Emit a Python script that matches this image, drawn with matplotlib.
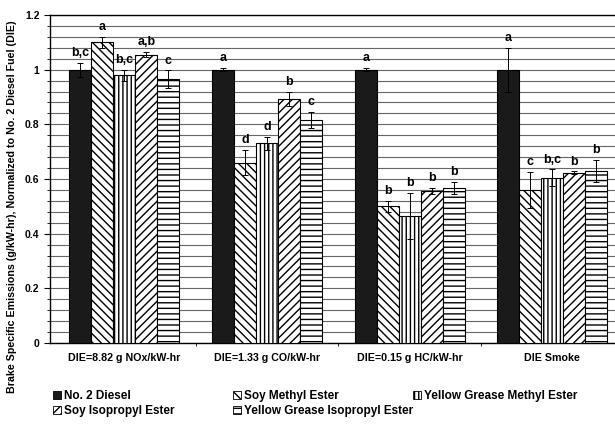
import matplotlib
matplotlib.use("Agg")
import matplotlib.pyplot as plt
import numpy as np
from matplotlib.patches import Patch

plt.rcParams['font.family'] = ['Liberation Sans', 'DejaVu Sans']
plt.rcParams['hatch.linewidth'] = 1.0

categories = ["DIE=8.82 g NOx/kW-hr", "DIE=1.33 g CO/kW-hr", "DIE=0.15 g HC/kW-hr", "DIE Smoke"]
series = ["No. 2 Diesel", "Soy Methyl Ester", "Yellow Grease Methyl Ester",
          "Soy Isopropyl Ester", "Yellow Grease Isopropyl Ester"]

diesel = [1.00, 1.00, 1.00, 1.00]
soy_me = [1.10, 0.66, 0.50, 0.56]
yg_me = [0.98, 0.73, 0.465, 0.605]
soy_ie = [1.055, 0.893, 0.557, 0.623]
yg_ie = [0.965, 0.815, 0.568, 0.63]

diesel_err = [0.025, 0.006, 0.005, 0.08]
soy_me_err = [0.02, 0.045, 0.02, 0.065]
yg_me_err = [0.02, 0.025, 0.085, 0.03]
soy_ie_err = [0.01, 0.027, 0.011, 0.005]
yg_ie_err = [0.032, 0.03, 0.022, 0.04]

diesel_lbl = ["b,c", "a", "a", "a"]
soy_me_lbl = ["a", "d", "b", "c"]
yg_me_lbl = ["b,c", "d", "b", "b,c"]
soy_ie_lbl = ["a,b", "b", "b", "b"]
yg_ie_lbl = ["c", "c", "b", "b"]

vals = [diesel, soy_me, yg_me, soy_ie, yg_ie]
errs = [diesel_err, soy_me_err, yg_me_err, soy_ie_err, yg_ie_err]
lbls = [diesel_lbl, soy_me_lbl, yg_me_lbl, soy_ie_lbl, yg_ie_lbl]
styles = [dict(facecolor='#1a1a1a', hatch=None),
          dict(facecolor='white', hatch='\\\\\\\\'),
          dict(facecolor='white', hatch='||||'),
          dict(facecolor='white', hatch='////'),
          dict(facecolor='white', hatch='---')]

fig = plt.figure(figsize=(6.15, 4.32), dpi=100)
W, H = 615, 432
ax = fig.add_axes([50 / W, (H - 343) / H, 575 / W, 328 / H])

x = np.arange(len(categories))
bw = 0.154
for i in range(5):
    pos = x + (i - 2) * bw
    ax.bar(pos, vals[i], bw, edgecolor='black', linewidth=0.8, zorder=3, **styles[i])
    ax.errorbar(pos, vals[i], yerr=errs[i], fmt='none', ecolor='black',
                elinewidth=0.7, capsize=2.5, capthick=0.7, zorder=4)
    for p, v, e, t in zip(pos, vals[i], errs[i], lbls[i]):
        ax.text(p, v + e + 0.014, t, ha='center', va='bottom', fontsize=9,
                fontweight='bold', zorder=5)

ax.set_ylim(0, 1.2)
ax.set_xlim(-0.521, 3.51)
ax.set_yticks(np.arange(0, 1.21, 0.2))
ax.set_yticklabels(["0", "0.2", "0.4", "0.6", "0.8", "1", "1.2"], fontsize=7.5, fontweight='bold')
ax.set_yticks(np.arange(0, 1.201, 0.04), minor=True)
ax.yaxis.grid(True, which='both', color='#666666', linewidth=0.8, zorder=0)
ax.set_axisbelow(True)
ax.tick_params(axis='y', which='major', length=4, width=0.8, direction='out')
ax.tick_params(axis='y', which='minor', length=2, width=0.6, direction='out')

ax.set_xticks(x[:-1] + 0.5)
ax.set_xticklabels([])
ax.set_xticks(x, minor=True)
ax.set_xticklabels(categories, minor=True, fontsize=7.7, fontweight='bold')
ax.tick_params(axis='x', which='major', length=2.5, width=0.6, direction='out')
ax.tick_params(axis='x', which='minor', length=0, pad=7)

ax.spines['right'].set_visible(False)
for s in ['top', 'left', 'bottom']:
    ax.spines[s].set_linewidth(1.0)

fig.text(12 / W, 1 - 207 / H,
         "Brake Specific Emissions (g/kW-hr), Normalized to No. 2 Diesel Fuel (DIE)",
         rotation=90, ha='center', va='center', fontsize=7.7, fontweight='bold')

handles = [Patch(edgecolor='black', linewidth=0.6, **styles[i]) for i in range(5)]
columns = [([0, 3], 53), ([1, 4], 233), ([2], 413)]
for idx, xpx in columns:
    leg = fig.legend([handles[i] for i in idx], [series[i] for i in idx],
                     ncol=1, loc='upper left', bbox_to_anchor=(xpx / W, 1 - 390 / H),
                     frameon=False, fontsize=8.5, handlelength=0.65, handleheight=0.65,
                     handletextpad=0.3, labelspacing=0.25,
                     borderaxespad=0, borderpad=0)
    for t in leg.get_texts():
        t.set_fontweight('bold')

fig.savefig("out.png", dpi=100)
